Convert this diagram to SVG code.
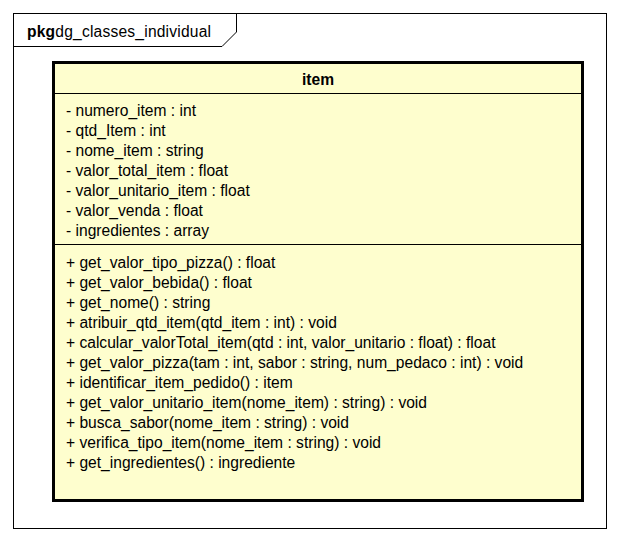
<svg xmlns="http://www.w3.org/2000/svg" width="620" height="542" viewBox="0 0 620 542">
<style>
text{font-family:"Liberation Sans",Arial,sans-serif;font-size:15.6px;fill:#000}
.b{font-weight:bold}
</style>
<rect width="620" height="542" fill="#fff"/>
<g id="package">
<rect x="13.5" y="13.5" width="593" height="515" fill="none" stroke="#000" stroke-width="1"/>
<path d="M13.5 46.5 H222 L236.5 32 V13.5" fill="none" stroke="#000" stroke-width="1"/>
<text x="27" y="37" letter-spacing="0.2"><tspan class="b">pkg</tspan>dg_classes_individual</text>
</g>
<g id="item">
<rect x="53.5" y="62.5" width="529" height="438" fill="#FEFECE" stroke="#000" stroke-width="3"/>
<text class="b" x="318" y="85" text-anchor="middle">item</text>
<line x1="53.5" y1="93.5" x2="582.5" y2="93.5" stroke="#000" stroke-width="1"/>
<text x="66" y="116">- numero_item : int</text>
<text x="66" y="136">- qtd_Item : int</text>
<text x="66" y="156">- nome_item : string</text>
<text x="66" y="176">- valor_total_item : float</text>
<text x="66" y="196">- valor_unitario_item : float</text>
<text x="66" y="216">- valor_venda : float</text>
<text x="66" y="236">- ingredientes : array</text>
<line x1="53.5" y1="244.5" x2="582.5" y2="244.5" stroke="#000" stroke-width="1"/>
<text x="66" y="268">+ get_valor_tipo_pizza() : float</text>
<text x="66" y="288">+ get_valor_bebida() : float</text>
<text x="66" y="308">+ get_nome() : string</text>
<text x="66" y="328">+ atribuir_qtd_item(qtd_item : int) : void</text>
<text x="66" y="348">+ calcular_valorTotal_item(qtd : int, valor_unitario : float) : float</text>
<text x="66" y="368">+ get_valor_pizza(tam : int, sabor : string, num_pedaco : int) : void</text>
<text x="66" y="388">+ identificar_item_pedido() : item</text>
<text x="66" y="408">+ get_valor_unitario_item(nome_item) : string) : void</text>
<text x="66" y="428">+ busca_sabor(nome_item : string) : void</text>
<text x="66" y="448">+ verifica_tipo_item(nome_item : string) : void</text>
<text x="66" y="468">+ get_ingredientes() : ingrediente</text>
</g>
<g id="connectors"/>
</svg>
